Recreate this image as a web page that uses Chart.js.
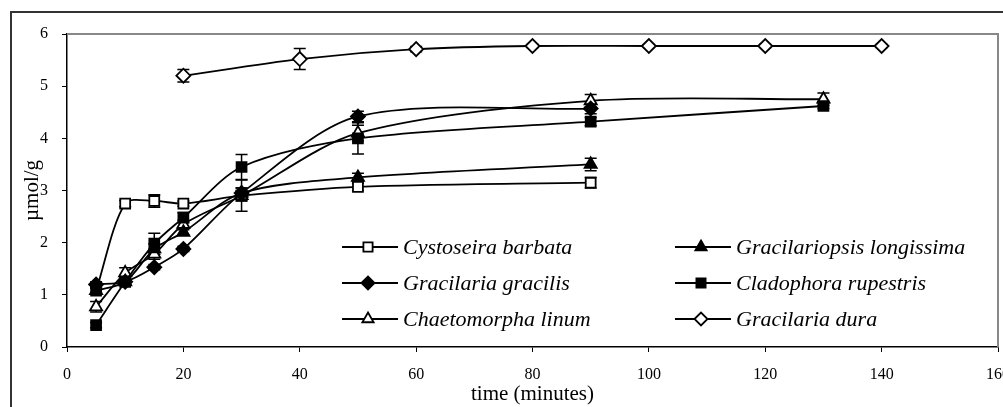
<!DOCTYPE html>
<html>
<head>
<meta charset="utf-8">
<script src="https://cdn.jsdelivr.net/npm/chart.js@4.4.0/dist/chart.umd.min.js"></script>
<style>
html, body { margin: 0; padding: 0; background: #fff; overflow: hidden; }
#wrap { position: relative; width: 1011px; height: 407px; }
#chart { display: block; }
#frame { position: absolute; left: 10px; top: 11px; width: 1100px; height: 500px; border: 2px solid #333; box-sizing: border-box; pointer-events: none; }
</style>
</head>
<body>
<div id="wrap"><canvas id="chart" width="1011" height="407"></canvas><div id="frame"></div></div>
<script>
// temps (minutes)
const timesShort = [5, 10, 15, 20, 30, 50, 90];
const timesLong = [5, 10, 15, 20, 30, 50, 90, 130];
const timesDura = [20, 40, 60, 80, 100, 120, 140];

// valeurs (µmol/g) et barres d'erreur
const cystoseira = [1.08, 2.75, 2.8, 2.75, 2.9, 3.07, 3.15];
const cystoseiraErr = [0.05, 0.06, 0.12, 0.05, 0.1, 0.07, 0.1];
const gracilariopsis = [1.08, 1.25, 1.88, 2.2, 2.95, 3.25, 3.5];
const gracilariopsisErr = [0.05, 0.05, 0.1, 0.05, 0.1, 0.08, 0.12];
const gracilis = [1.2, 1.25, 1.53, 1.88, 2.95, 4.42, 4.57];
const gracilisErr = [0.05, 0.05, 0.05, 0.05, 0.1, 0.1, 0.1];
const cladophora = [0.42, 1.25, 1.98, 2.48, 3.45, 4.0, 4.32, 4.62];
const cladophoraErr = [0.05, 0.05, 0.2, 0.1, 0.24, 0.3, 0.08, 0.05];
const chaetomorpha = [0.77, 1.42, 1.78, 2.35, 2.9, 4.1, 4.72, 4.75];
const chaetomorphaErr = [0.1, 0.1, 0.1, 0.08, 0.3, 0.15, 0.12, 0.12];
const dura = [5.2, 5.52, 5.71, 5.77, 5.77, 5.77, 5.77];
const duraErr = [0.12, 0.2, 0.05, 0.03, 0.03, 0.03, 0.03];

const yTicks = [0, 1, 2, 3, 4, 5, 6];
const xTicks = [0, 20, 40, 60, 80, 100, 120, 140, 160];

const serif = "'Liberation Serif', 'Times New Roman', serif";

function serie(label, times, values, errors, style, open, order) {
    return {
        label: label,
        data: times.map((t, i) => ({ x: t, y: values[i] })),
        errors: errors,
        order: order,
        borderColor: '#000',
        borderWidth: 1.8,
        backgroundColor: open ? '#fff' : '#000',
        pointStyle: style,
        pointRadius: 7,
        pointBorderWidth: 1.8,
        pointBackgroundColor: open ? '#fff' : '#000',
        pointBorderColor: '#000',
        tension: 0.3,
        fill: false
    };
}

// barres d'erreur
const errorBars = {
    id: 'errorBars',
    beforeDatasetsDraw(chart) {
        const ctx = chart.ctx;
        const y = chart.scales.y;
        ctx.save();
        ctx.strokeStyle = '#000';
        ctx.lineWidth = 1.5;
        chart.data.datasets.forEach((ds, di) => {
            const meta = chart.getDatasetMeta(di);
            meta.data.forEach((pt, i) => {
                const e = ds.errors[i];
                const v = ds.data[i].y;
                const top = y.getPixelForValue(v + e);
                const bot = y.getPixelForValue(v - e);
                ctx.beginPath();
                ctx.moveTo(pt.x, top); ctx.lineTo(pt.x, bot);
                ctx.moveTo(pt.x - 6, top); ctx.lineTo(pt.x + 6, top);
                ctx.moveTo(pt.x - 6, bot); ctx.lineTo(pt.x + 6, bot);
                ctx.stroke();
            });
        });
        ctx.restore();
    }
};

// cadre gris et légende dans la zone du graphique
const decor = {
    id: 'decor',
    afterDraw(chart, args, opts) {
        const ctx = chart.ctx;
        const a = chart.chartArea;
        ctx.save();
        ctx.strokeStyle = '#888';
        ctx.lineWidth = 2;
        ctx.beginPath();
        ctx.moveTo(a.left, a.top); ctx.lineTo(a.right, a.top); ctx.lineTo(a.right, a.bottom);
        ctx.stroke();

        ctx.font = 'italic 22px ' + serif;
        ctx.textAlign = 'left';
        ctx.textBaseline = 'middle';
        chart.data.datasets.forEach((ds, i) => {
            const lx = opts.cols[i % 2];
            const ly = opts.rows[Math.floor(i / 2)];
            ctx.strokeStyle = '#000';
            ctx.lineWidth = 1.8;
            ctx.beginPath();
            ctx.moveTo(lx, ly); ctx.lineTo(lx + 56, ly);
            ctx.stroke();
            ctx.fillStyle = ds.pointBackgroundColor;
            Chart.helpers.drawPoint(ctx, { pointStyle: ds.pointStyle, radius: 6.5, rotation: 0, borderWidth: 1.8 }, lx + 26, ly);
            ctx.fillStyle = '#000';
            ctx.fillText(ds.label, lx + 61, ly + 1);
        });
        ctx.restore();
    }
};

const ctx = document.getElementById('chart').getContext('2d');
new Chart(ctx, {
    type: 'line',
    data: {
        datasets: [
            serie('Cystoseira barbata', timesShort, cystoseira, cystoseiraErr, 'rect', true, 6),
            serie('Gracilariopsis longissima', timesShort, gracilariopsis, gracilariopsisErr, 'triangle', false, 2),
            serie('Gracilaria gracilis', timesShort, gracilis, gracilisErr, 'rectRot', false, 1),
            serie('Cladophora rupestris', timesLong, cladophora, cladophoraErr, 'rect', false, 3),
            serie('Chaetomorpha linum', timesLong, chaetomorpha, chaetomorphaErr, 'triangle', true, 4),
            serie('Gracilaria dura', timesDura, dura, duraErr, 'rectRot', true, 5)
        ]
    },
    options: {
        responsive: false,
        devicePixelRatio: 1,
        animation: false,
        layout: { padding: { top: 34, right: 13, left: 0, bottom: 0 } },
        scales: {
            x: {
                type: 'linear',
                min: 0,
                max: 160,
                afterFit: s => { s.height = 60; s.paddingRight = 0; s.paddingLeft = 0; },
                afterBuildTicks: s => { s.ticks = xTicks.map(v => ({ value: v })); },
                grid: { display: true, drawOnChartArea: false, drawTicks: true, tickLength: 5, color: '#000' },
                border: { display: true, color: '#000', width: 1.5 },
                ticks: { color: '#000', padding: 13, maxRotation: 0, font: { family: serif, size: 16 } },
                title: { display: true, text: 'time (minutes)', color: '#000', padding: { top: 0, bottom: 0 }, font: { family: serif, size: 21 } }
            },
            y: {
                min: 0,
                max: 6,
                afterFit: s => { s.width = 67; },
                afterBuildTicks: s => { s.ticks = yTicks.map(v => ({ value: v })); },
                grid: { display: true, drawOnChartArea: false, drawTicks: true, tickLength: 5, color: '#000' },
                border: { display: true, color: '#000', width: 1.5 },
                ticks: { color: '#000', padding: 14, font: { family: serif, size: 16 } },
                title: { display: true, text: 'µmol/g', color: '#000', padding: { top: 20, bottom: 0 }, font: { family: serif, size: 21 } }
            }
        },
        plugins: {
            legend: { display: false },
            tooltip: { enabled: false },
            decor: { cols: [342, 675], rows: [247, 283, 319] }
        }
    },
    plugins: [errorBars, decor]
});
</script>
</body>
</html>
